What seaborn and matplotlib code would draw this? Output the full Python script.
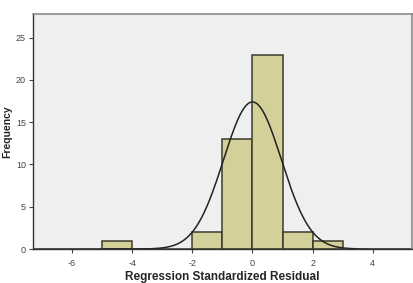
import numpy as np
import matplotlib
matplotlib.use("Agg")
import matplotlib.pyplot as plt
import seaborn as sns

# histogram bins (width 1) and their counts
BIN_EDGES = [-5, -4, -3, -2, -1, 0, 1, 2, 3]
COUNTS = [1, 0, 0, 2, 13, 23, 2, 1]
# fitted normal curve
RESID_MEAN = 0.0
RESID_STD = 0.963
N_OBS = 42

XTICKS = [-6, -4, -2, 0, 2, 4]
YTICKS = [0, 5, 10, 15, 20, 25]

sns.set_style("white")
plt.rcParams['font.family'] = ['Liberation Sans', 'DejaVu Sans']
plt.rcParams['axes.unicode_minus'] = False

centers = [(a + b) / 2 for a, b in zip(BIN_EDGES[:-1], BIN_EDGES[1:])]

fig = plt.figure(figsize=(4.14, 2.83), dpi=100)
ax = fig.add_axes([0.0797, 0.120, 0.915, 0.8305])
ax.set_facecolor('#efefef')

sns.histplot(x=centers, weights=COUNTS, bins=BIN_EDGES, ax=ax,
             color='#d3d09a', alpha=1, edgecolor='#3b3b2c', linewidth=1.1)

# normal curve scaled to counts
xs = np.linspace(-7.3, 5.3, 400)
bw = BIN_EDGES[1] - BIN_EDGES[0]
ys = N_OBS * bw / (RESID_STD * np.sqrt(2 * np.pi)) * np.exp(-0.5 * ((xs - RESID_MEAN) / RESID_STD) ** 2)
sns.lineplot(x=xs, y=ys, ax=ax, color='#222222', linewidth=1.1)

ax.set_xlim(-7.3, 5.3)
ax.set_ylim(0, 27.8)
ax.set_xticks(XTICKS)
ax.set_yticks(YTICKS)
ax.tick_params(axis='both', labelsize=6.5, colors='#444444', length=3, width=0.8, pad=2)
ax.tick_params(axis='x', direction='out', bottom=True, pad=4)
ax.tick_params(axis='y', direction='out', left=True)

for side in ['top', 'right']:
    ax.spines[side].set_color('#8c8c8c')
    ax.spines[side].set_linewidth(1.2)
for side in ['left', 'bottom']:
    ax.spines[side].set_color('#333333')
    ax.spines[side].set_linewidth(1.0)

ax.set_xlabel('Regression Standardized Residual', fontsize=8.5, fontweight='bold', labelpad=2.5)
ax.set_ylabel('Frequency', fontsize=7.5, fontweight='bold', labelpad=3)

fig.savefig('out.png', dpi=100)
